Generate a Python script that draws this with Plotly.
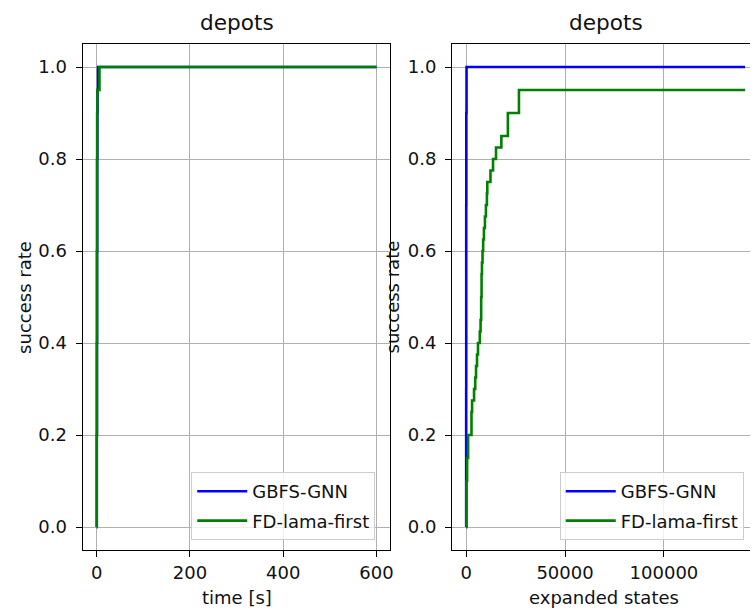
import plotly.graph_objects as go

# ---- data ----
methods = ["GBFS-GNN", "FD-lama-first"]

# left panel: success rate vs time [s]
gnn_time = [0, 0.3, 0.6, 0.9, 1.2, 1.5, 2.0, 3.0, 600]
gnn_time_rate = [0.0, 0.2, 0.4, 0.6, 0.8, 0.9, 0.95, 1.0, 1.0]
lama_time = [0, 0.2, 0.4, 0.6, 0.8, 1.0, 1.5, 6.0, 600]
lama_time_rate = [0.0, 0.2, 0.4, 0.6, 0.8, 0.9, 0.95, 1.0, 1.0]

# right panel: success rate vs expanded states
gnn_states = [0, 20, 50, 100, 200, 141000]
gnn_states_rate = [0.0, 0.3, 0.7, 0.9, 1.0, 1.0]
lama_states = [0, 200, 500, 1000, 2700, 3000, 4000, 4600, 5000, 5500, 6000,
               6900, 7300, 7600, 7800, 8000, 8300, 8600, 9000, 9500, 10000,
               10500, 10700, 12300, 13600, 15100, 17800, 21100, 26700, 141000]
lama_states_rate = [0.0, 0.1, 0.15, 0.2, 0.25, 0.275, 0.3, 0.325, 0.35, 0.375,
                    0.4, 0.425, 0.45, 0.5, 0.55, 0.575, 0.6, 0.625, 0.65, 0.675,
                    0.7, 0.725, 0.75, 0.775, 0.8, 0.825, 0.85, 0.9, 0.95, 0.95]

titles = ["depots", "depots"]
x_titles = ["time [s]", "expanded states"]
y_title = "success rate"
y_ticks = [0.0, 0.2, 0.4, 0.6, 0.8, 1.0]
left_xticks = [0, 200, 400, 600]
right_xticks = [0, 50000, 100000]

BLUE = "#0000ff"
GREEN = "#008000"
FONT = "DejaVu Sans"
TXT = "#111111"
W, H = 753, 608

fig = go.Figure()
panels = [("x", "y", "legend", gnn_time, gnn_time_rate, lama_time, lama_time_rate),
          ("x2", "y2", "legend2", gnn_states, gnn_states_rate, lama_states, lama_states_rate)]
for xa, ya, lg, gx, gy, lx, ly in panels:
    fig.add_trace(go.Scatter(x=gx, y=gy, mode="lines", line_shape="hv",
                             line=dict(color=BLUE, width=2.6), name=methods[0],
                             legendgroup=lg + "a", xaxis=xa, yaxis=ya, legend=lg))
    fig.add_trace(go.Scatter(x=lx, y=ly, mode="lines", line_shape="hv",
                             line=dict(color=GREEN, width=2.6), name=methods[1],
                             legendgroup=lg + "b", xaxis=xa, yaxis=ya, legend=lg))

L1, R1 = 83, 392
L2, R2 = 454, 753
TOP, BOT = 44, 550
ydom = [1 - BOT / H, 1 - TOP / H]

common_axis = dict(showgrid=True, gridcolor="#b0b0b0", gridwidth=1.3, zeroline=False,
                   ticks="outside", ticklen=6, tickwidth=1.3, tickcolor="black",
                   linecolor="black", linewidth=1.3, showline=True,
                   tickfont=dict(family=FONT, size=18, color=TXT))

legend_common = dict(xanchor="left", yanchor="bottom",
                     bgcolor="rgba(255,255,255,0.8)", bordercolor="#cccccc", borderwidth=1,
                     font=dict(family=FONT, size=18, color=TXT),
                     traceorder="grouped", tracegroupgap=3, itemwidth=50)

fig.update_layout(
    width=W, height=H,
    margin=dict(l=0, r=0, t=0, b=0),
    paper_bgcolor="white", plot_bgcolor="white",
    font=dict(family=FONT, size=18, color=TXT),
    xaxis=dict(domain=[L1 / W, R1 / W], range=[-30, 630], tickvals=left_xticks,
               mirror=True, anchor="y", **common_axis),
    yaxis=dict(domain=ydom, range=[-0.05, 1.05], tickvals=y_ticks,
               ticktext=[f"{v:.1f}" for v in y_ticks], mirror=True, anchor="x",
               ticklabelstandoff=5, **common_axis),
    xaxis2=dict(domain=[L2 / W, R2 / W], range=[-7050, 143500], tickvals=right_xticks,
                ticktext=[str(v) for v in right_xticks],
                mirror=True, anchor="y2", **common_axis),
    yaxis2=dict(domain=ydom, range=[-0.05, 1.05], tickvals=y_ticks,
                ticktext=[f"{v:.1f}" for v in y_ticks], mirror=False, anchor="x2",
                ticklabelstandoff=5, **common_axis),
    legend=dict(x=192 / W, y=1 - 540 / H, **legend_common),
    legend2=dict(x=562 / W, y=1 - 540 / H, **legend_common),
)

ann = []
for cx, t in zip([(L1 + R1) / 2, (L2 + 762) / 2], titles):
    ann.append(dict(x=cx / W, y=1 - 22 / H, xref="paper", yref="paper", text=t,
                    showarrow=False, font=dict(family=FONT, size=21.6, color=TXT),
                    xanchor="center", yanchor="middle"))
for cx, t in zip([(L1 + R1) / 2, 606], x_titles):
    ann.append(dict(x=cx / W, y=1 - 597 / H, xref="paper", yref="paper", text=t,
                    showarrow=False, font=dict(family=FONT, size=18, color=TXT),
                    xanchor="center", yanchor="middle"))
for cx in [24, 394]:
    ann.append(dict(x=cx / W, y=1 - ((TOP + BOT) / 2) / H, xref="paper", yref="paper",
                    text=y_title, textangle=-90, showarrow=False,
                    font=dict(family=FONT, size=18, color=TXT),
                    xanchor="center", yanchor="middle"))
fig.update_layout(annotations=ann)

fig.write_html("out.html",
               config={"displayModeBar": False},
               post_script="document.body.style.margin='0';"
                           "document.body.style.overflow='hidden';")
